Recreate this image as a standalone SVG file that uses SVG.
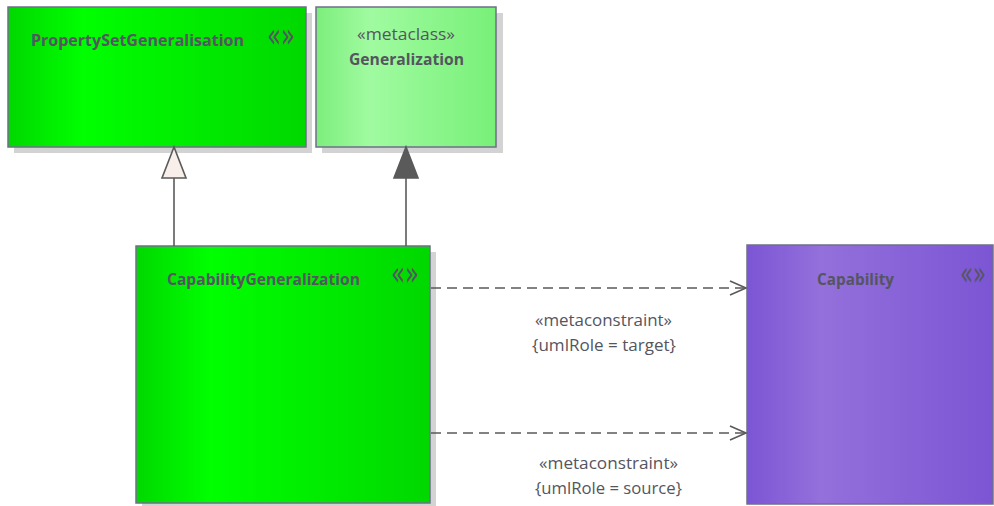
<svg xmlns="http://www.w3.org/2000/svg" width="994" height="506" viewBox="0 0 994 506">
<defs>
<linearGradient id="gGreen" x1="0" y1="0" x2="1" y2="0">
<stop offset="0" stop-color="#00d800"/><stop offset="0.25" stop-color="#00ff00"/><stop offset="1" stop-color="#00d800"/>
</linearGradient>
<linearGradient id="gLight" x1="0" y1="0" x2="1" y2="0">
<stop offset="0" stop-color="#7cee7c"/><stop offset="0.3" stop-color="#a0fba0"/><stop offset="1" stop-color="#78f078"/>
</linearGradient>
<linearGradient id="gPurple" x1="0" y1="0" x2="1" y2="0">
<stop offset="0" stop-color="#7c55d4"/><stop offset="0.3" stop-color="#9370db"/><stop offset="1" stop-color="#7c55d4"/>
</linearGradient>
<marker id="openArrow" markerWidth="20" markerHeight="16" refX="18" refY="8" orient="auto" markerUnits="userSpaceOnUse">
<polyline points="2,1 18,8 2,15" fill="none" stroke="#5a5a5a" stroke-width="1.6"/>
</marker>
</defs>
<style>
.shadow{fill:#d3d3d3}
.box{stroke:#6f6f8a;stroke-width:1.5}
.name{font-family:"Open Sans","Liberation Sans",sans-serif;font-weight:bold;font-size:16px;fill:#555560}
.stereo{font-family:"Open Sans","Liberation Sans",sans-serif;font-size:16px;fill:#555560}
.icon{font-family:"DejaVu Sans",sans-serif;font-size:34px;fill:#555560}
.lbl{font-family:"Open Sans","Liberation Sans",sans-serif;font-size:16px;fill:#555560}
.line{stroke:#5a5a5a;stroke-width:1.6;fill:none}
.dash{stroke:#5a5a5a;stroke-width:1.6;fill:none;stroke-dasharray:10,6}
</style>
<g id="PropertySetGeneralisation">
<rect class="shadow" x="14" y="13" width="298" height="140"/>
<rect class="box" x="8" y="7" width="298" height="140" fill="url(#gGreen)"/>
<text class="name" x="31" y="46" textLength="213" lengthAdjust="spacingAndGlyphs">PropertySetGeneralisation</text>
<text class="icon" x="267" y="47" textLength="28" lengthAdjust="spacingAndGlyphs">«»</text>
</g>
<g id="Generalization">
<rect class="shadow" x="322" y="13" width="181" height="140"/>
<rect class="box" x="316" y="7" width="180" height="140" fill="url(#gLight)"/>
<text class="stereo" x="357" y="40" textLength="98" lengthAdjust="spacingAndGlyphs">«metaclass»</text>
<text class="name" x="349" y="65" textLength="115" lengthAdjust="spacingAndGlyphs">Generalization</text>
</g>
<g id="CapabilityGeneralization">
<rect class="shadow" x="142" y="252" width="294" height="254"/>
<rect class="box" x="136" y="246" width="294" height="257" fill="url(#gGreen)"/>
<text class="name" x="167" y="285" textLength="193" lengthAdjust="spacingAndGlyphs">CapabilityGeneralization</text>
<text class="icon" x="391" y="285" textLength="28" lengthAdjust="spacingAndGlyphs">«»</text>
</g>
<g id="Capability">
<rect class="box" x="747" y="245" width="246" height="259" fill="url(#gPurple)"/>
<text class="name" x="817" y="285" textLength="77" lengthAdjust="spacingAndGlyphs">Capability</text>
<text class="icon" x="960" y="285" textLength="26" lengthAdjust="spacingAndGlyphs">«»</text>
</g>
<g id="connectors">
<line class="line" x1="174" y1="246" x2="174" y2="178"/>
<polygon points="174,147 162,178 186,178" fill="#f8efea" stroke="#5a5a5a" stroke-width="1.6"/>
<line class="line" x1="406" y1="246" x2="406" y2="178"/>
<polygon points="406,147 394,178 418,178" fill="#5a5a5a" stroke="#5a5a5a" stroke-width="1.6"/>
<line class="dash" x1="431" y1="288" x2="746" y2="288" marker-end="url(#openArrow)"/>
<line class="dash" x1="431" y1="433" x2="746" y2="433" marker-end="url(#openArrow)"/>
<text class="lbl" x="535" y="326" textLength="137" lengthAdjust="spacingAndGlyphs">«metaconstraint»</text>
<text class="lbl" x="532" y="351" textLength="144" lengthAdjust="spacingAndGlyphs">{umlRole = target}</text>
<text class="lbl" x="539" y="469" textLength="139" lengthAdjust="spacingAndGlyphs">«metaconstraint»</text>
<text class="lbl" x="535" y="494" textLength="147" lengthAdjust="spacingAndGlyphs">{umlRole = source}</text>
</g>
</svg>
